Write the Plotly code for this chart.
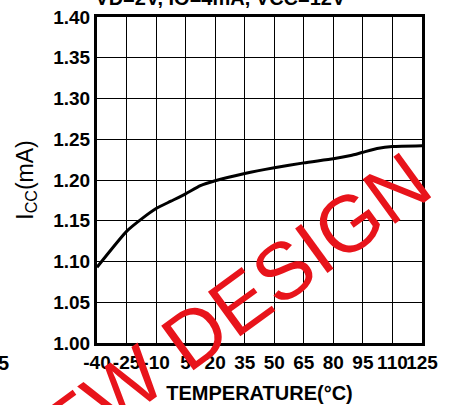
import plotly.graph_objects as go

# datos
temperatura = [-40, -25, -17.5, -10, -2.5, 5, 12.5, 20, 35, 50, 65, 80, 88.8, 95, 103, 110, 125]
icc = [1.093, 1.137, 1.152, 1.165, 1.174, 1.183, 1.193, 1.199, 1.208, 1.215, 1.221,
       1.226, 1.230, 1.234, 1.239, 1.241, 1.242]
ticks_x = [-40, -25, -10, 5, 20, 35, 50, 65, 80, 95, 110, 125]
ticks_y = [1.00, 1.05, 1.10, 1.15, 1.20, 1.25, 1.30, 1.35, 1.40]

fuente_x = dict(family="Liberation Sans, Arial", size=19, color="black", weight="bold")
fuente_t = dict(family="Liberation Sans, Arial", size=20, color="black", weight="bold")
fuente_y = dict(family="Liberation Sans, Arial", size=19, color="black", weight="bold")

fig = go.Figure()
fig.add_scatter(x=temperatura, y=icc, mode="lines",
                line=dict(color="black", width=3, shape="spline", smoothing=0.5),
                showlegend=False)

ejes = dict(showline=True, linecolor="black", linewidth=3, mirror=True,
            showgrid=True, gridcolor="black", gridwidth=1.3,
            zeroline=False, ticks="", automargin=False)
fig.update_xaxes(range=[-40, 125], tickvals=ticks_x, ticktext=[str(t) for t in ticks_x],
                 tickangle=0, tickfont=fuente_x,
                 title=dict(text="TEMPERATURE(°C)", font=fuente_t, standoff=15), **ejes)
fig.update_yaxes(range=[1.0, 1.4], tickvals=ticks_y, ticktext=["%.2f" % v for v in ticks_y],
                 tickfont=fuente_y,
                 title=dict(text="I<sub>CC</sub>(mA)",
                            font=dict(family="Liberation Sans, Arial", size=23, color="black"),
                            standoff=14), **ejes)

fig.update_layout(
    width=459, height=405,
    margin=dict(l=97, r=37, t=17, b=62),
    plot_bgcolor="white", paper_bgcolor="white",
    title=dict(text="VD=2V, IO=4mA, VCC=12V", x=0.48, xanchor="center",
               yref="container", y=0.987, yanchor="bottom", font=fuente_t),
)

# marca de agua
fig.add_annotation(text="NEW DESIGN", xref="paper", yref="paper", x=0.355, y=0.062,
                   xanchor="center", yanchor="middle", showarrow=False, textangle=-36,
                   font=dict(family="Liberation Sans, Arial", size=80, color="#e8141b"))
# resto de la grafica vecina
fig.add_annotation(text="5", xref="paper", yref="paper", x=-0.312, y=-0.02,
                   xanchor="left", yanchor="top", showarrow=False, font=fuente_t)

# sin margen del body para que la figura empiece en (0, 0)
fig.write_html("out.html", config={"displayModeBar": False},
               post_script="document.body.style.margin='0px';")
